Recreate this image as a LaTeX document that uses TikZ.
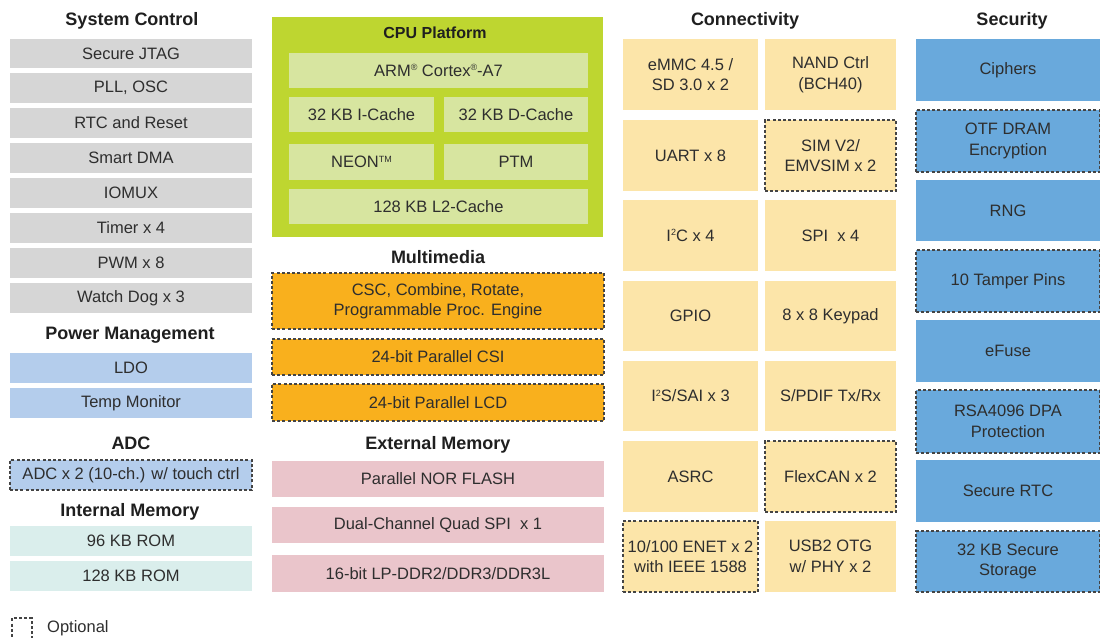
\documentclass[tikz,border=0pt]{standalone}
\usepackage{fontspec}
\setmainfont{Liberation Sans}
\definecolor{txt}{HTML}{2E2E2E}
\definecolor{cgray}{HTML}{D6D6D6}
\definecolor{cpm}{HTML}{B4CDEC}
\definecolor{cim}{HTML}{DAEEEC}
\definecolor{ccpu}{HTML}{BED630}
\definecolor{cin}{HTML}{D7E5A0}
\definecolor{cmm}{HTML}{F9B01D}
\definecolor{cem}{HTML}{EAC5CB}
\definecolor{ccon}{HTML}{FCE5A9}
\definecolor{csec}{HTML}{69A9DC}
\definecolor{cdash}{HTML}{444444}
\newcommand\smallsup[1]{\raisebox{0.62ex}{\fontsize{9}{9}\selectfont #1}}
\newcommand\bx[7][]{%
  \node[blk,#1,fill=#7,minimum width={(#4-#2)*1pt},minimum height={(#5-#3)*1pt}]
    (#6) at ({(#2+#4)/2},{(#3+#5)/2}) }
\tikzset{
  blk/.style={rectangle,inner sep=0pt,align=center,text=txt,font=\fontsize{16.5}{20.5}\selectfont},
  opt/.style={draw=cdash,line width=1.1pt,dash pattern=on 3pt off 2.2pt},
  ttl/.style={font=\bfseries\fontsize{18}{20}\selectfont,text=black!88,inner sep=0pt}
}
\begin{document}
\begin{tikzpicture}[x=1pt,y=-1pt]
\useasboundingbox[fill=white] (0,0) rectangle (1100,637);
% ---- left column
\node[ttl] (tsc) at (132,21) {System Control};
\bx{10}{39}{252}{68}{sc1}{cgray}{Secure JTAG};
\bx{10}{73}{252}{103}{sc2}{cgray}{PLL, OSC};
\bx{10}{108}{252}{138}{sc3}{cgray}{RTC and Reset};
\bx{10}{143}{252}{173}{sc4}{cgray}{Smart DMA};
\bx{10}{178}{252}{208}{sc5}{cgray}{IOMUX};
\bx{10}{213}{252}{243}{sc6}{cgray}{Timer x 4};
\bx{10}{248}{252}{278}{sc7}{cgray}{PWM x 8};
\bx{10}{283}{252}{313}{sc8}{cgray}{Watch Dog x 3};
\node[ttl] (tpm) at (130,335) {Power Management};
\bx{10}{353}{252}{383}{pm1}{cpm}{LDO};
\bx{10}{388}{252}{418}{pm2}{cpm}{Temp Monitor};
\node[ttl] (tadc) at (131,443) {ADC};
\bx[opt]{10}{460}{252}{490}{adc}{cpm}{ADC x 2 (10-ch.) w/ touch ctrl};
\node[ttl] (tim) at (130,512) {Internal Memory};
\bx{10}{526}{252}{556}{im1}{cim}{96 KB ROM};
\bx{10}{561}{252}{591}{im2}{cim}{128 KB ROM};
% legend
\node[opt,rectangle,minimum width=20pt,minimum height=22pt,inner sep=0pt] (leg) at (22,629) {};
\node[blk,anchor=west] (legt) at (47,628) {Optional};
% ---- CPU platform
\bx{272}{17}{603}{237}{cpu}{ccpu}{};
\node[ttl,font=\bfseries\fontsize{16}{18}\selectfont] (tcpu) at (435,33) {CPU Platform};
\bx{289}{53}{588}{88}{arm}{cin}{ARM\smallsup{®} Cortex\smallsup{®}-A7};
\bx{289}{97}{434}{132}{ic}{cin}{32 KB I-Cache};
\bx{444}{97}{588}{132}{dc}{cin}{32 KB D-Cache};
\bx{289}{144}{434}{180}{neon}{cin}{NEON\smallsup{TM}};
\bx{444}{144}{588}{180}{ptm}{cin}{PTM};
\bx{289}{189}{588}{224}{l2}{cin}{128 KB L2-Cache};
% ---- multimedia
\node[ttl] (tmm) at (438,257) {Multimedia};
\bx[opt]{272}{273}{604}{329}{csc}{cmm}{CSC, Combine, Rotate,\\Programmable Proc. Engine};
\bx[opt]{272}{339}{604}{375}{csi}{cmm}{24-bit Parallel CSI};
\bx[opt]{272}{384}{604}{421}{lcd}{cmm}{24-bit Parallel LCD};
% ---- external memory
\node[ttl] (tem) at (438,445) {External Memory};
\bx{272}{461}{604}{497}{nor}{cem}{Parallel NOR FLASH};
\bx{272}{507}{604}{543}{qspi}{cem}{Dual-Channel Quad SPI\ \ x 1};
\bx{272}{555}{604}{592}{ddr}{cem}{16-bit LP-DDR2/DDR3/DDR3L};
% ---- connectivity
\node[ttl] (tcon) at (745,21) {Connectivity};
\bx{623}{39}{758}{110}{c1}{ccon}{eMMC 4.5 /\\SD 3.0 x 2};
\bx{765}{39}{896}{110}{c2}{ccon}{NAND Ctrl\\(BCH40)};
\bx{623}{120}{758}{191}{c3}{ccon}{UART x 8};
\bx[opt]{765}{120}{896}{191}{c4}{ccon}{SIM V2/\\EMVSIM x 2};
\bx{623}{200}{758}{271}{c5}{ccon}{I\smallsup{2}C x 4};
\bx{765}{200}{896}{271}{c6}{ccon}{SPI\ \ x 4};
\bx{623}{281}{758}{351}{c7}{ccon}{GPIO};
\bx{765}{281}{896}{351}{c8}{ccon}{8 x 8 Keypad};
\bx{623}{361}{758}{431}{c9}{ccon}{I\smallsup{2}S/SAI x 3};
\bx{765}{361}{896}{431}{c10}{ccon}{S/PDIF Tx/Rx};
\bx{623}{441}{758}{512}{c11}{ccon}{ASRC};
\bx[opt]{765}{441}{896}{512}{c12}{ccon}{FlexCAN x 2};
\bx[opt]{623}{521}{758}{592}{c13}{ccon}{10/100 ENET x 2\\with IEEE 1588};
\bx{765}{521}{896}{592}{c14}{ccon}{USB2 OTG\\w/ PHY x 2};
% ---- security
\node[ttl] (tsec) at (1012,21) {Security};
\bx{916}{39}{1100}{101}{s1}{csec}{Ciphers};
\bx[opt]{916}{110}{1100}{172}{s2}{csec}{OTF DRAM\\Encryption};
\bx{916}{180}{1100}{241}{s3}{csec}{RNG};
\bx[opt]{916}{250}{1100}{312}{s4}{csec}{10 Tamper Pins};
\bx{916}{320}{1100}{382}{s5}{csec}{eFuse};
\bx[opt]{916}{390}{1100}{453}{s6}{csec}{RSA4096 DPA\\Protection};
\bx{916}{460}{1100}{522}{s7}{csec}{Secure RTC};
\bx[opt]{916}{531}{1100}{592}{s8}{csec}{32 KB Secure\\Storage};
\end{tikzpicture}
\end{document}
